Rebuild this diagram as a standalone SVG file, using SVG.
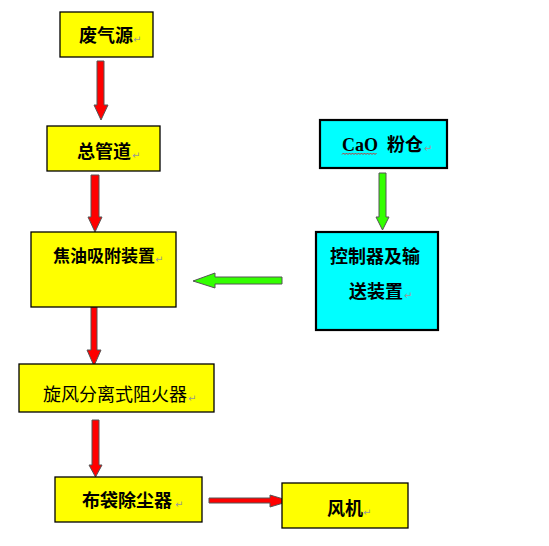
<svg xmlns="http://www.w3.org/2000/svg" width="549" height="546" viewBox="0 0 549 546">
<style>
.y{fill:#ffff00;stroke:#000;stroke-width:1.3}
.c{fill:#00ffff;stroke:#000;stroke-width:2.2}
.t{font-family:"Noto Sans CJK SC","Noto Sans",sans-serif;font-size:18px;font-weight:bold;fill:#000}
.n{font-family:"Noto Sans CJK SC","Noto Sans",sans-serif;font-size:18px;fill:#000}
.p{font-family:"DejaVu Sans",sans-serif;font-size:10px;fill:#999}
.r{fill:#ff0000;stroke:#555;stroke-width:1}
.g{fill:#33ff00;stroke:#555;stroke-width:1}
</style>
<rect width="549" height="546" fill="#fff"/>
<g id="connectors">
<polygon class="r" points="97,61 104,61 104,105 108,105 101,120 94,105 97,105"/>
<polygon class="r" points="91,175 99,175 99,217 102,217 95,232 88,217 91,217"/>
<polygon class="r" points="91,307 97,307 97,350 101,350 94,366 87,350 91,350"/>
<polygon class="r" points="92,420 99,420 99,465 102,465 95.5,477 89,465 92,465"/>
<polygon class="r" points="209,498 270,498 270,495 290,501 270,507 270,503 209,503"/>
<polygon class="g" points="379,173 386,173 386,217 389,217 382.5,230 376,217 379,217"/>
<polygon class="g" points="282,277 282,284 215,284 215,288 193,281 215,273 215,277"/>
</g>
<g id="n1"><rect class="y" x="60" y="12" width="93" height="45"/><text class="t" x="79" y="42">废气源</text><text class="p" x="133" y="43">↵</text></g>
<g id="n2"><rect class="y" x="47" y="126" width="113" height="45"/><text class="t" x="77" y="158">总管道</text><text class="p" x="132" y="159">↵</text></g>
<g id="n3"><rect class="y" x="31" y="232" width="145" height="75"/><text class="t" x="53" y="262" style="font-size:17px">焦油吸附装置</text><text class="p" x="155" y="263">↵</text></g>
<g id="n4"><rect class="y" x="19" y="364" width="195" height="48"/><text class="n" x="43" y="401">旋风分离式阻火器</text><text class="p" x="188" y="402">↵</text></g>
<g id="n5"><rect class="c" x="320" y="120" width="127" height="48"/><text x="342" y="151" style="font-family:'Liberation Serif',serif;font-size:18px;font-weight:bold">CaO</text><path d="M342,154.5 l1.5,-1.5 l1.5,1.5 l1.5,-1.5 l1.5,1.5 l1.5,-1.5 l1.5,1.5 l1.5,-1.5 l1.5,1.5 l1.5,-1.5 l1.5,1.5 l1.5,-1.5 l1.5,1.5 l1.5,-1.5 l1.5,1.5 l1.5,-1.5 l1.5,1.5 l1.5,-1.5 l1.5,1.5 l1.5,-1.5 l1.5,1.5 l1.5,-1.5 l1.5,1.5 l1.5,-1.5" fill="none" stroke="#e00" stroke-width="0.8"/><text class="t" x="387" y="151">粉仓</text><text class="p" x="424" y="152">↵</text></g>
<g id="n6"><rect class="c" x="316" y="232" width="122" height="98"/><text class="t" x="330" y="263">控制器及输</text><text class="t" x="349" y="298">送装置</text><text class="p" x="404" y="299">↵</text></g>
<g id="n7"><rect class="y" x="55" y="477" width="147" height="45"/><text class="t" x="82" y="507">布袋除尘器</text><text class="p" x="175" y="508">↵</text></g>
<g id="n8"><rect class="y" x="282" y="483" width="126" height="45"/><text class="t" x="327" y="515">风机</text><text class="p" x="363" y="516">↵</text></g>
</svg>
